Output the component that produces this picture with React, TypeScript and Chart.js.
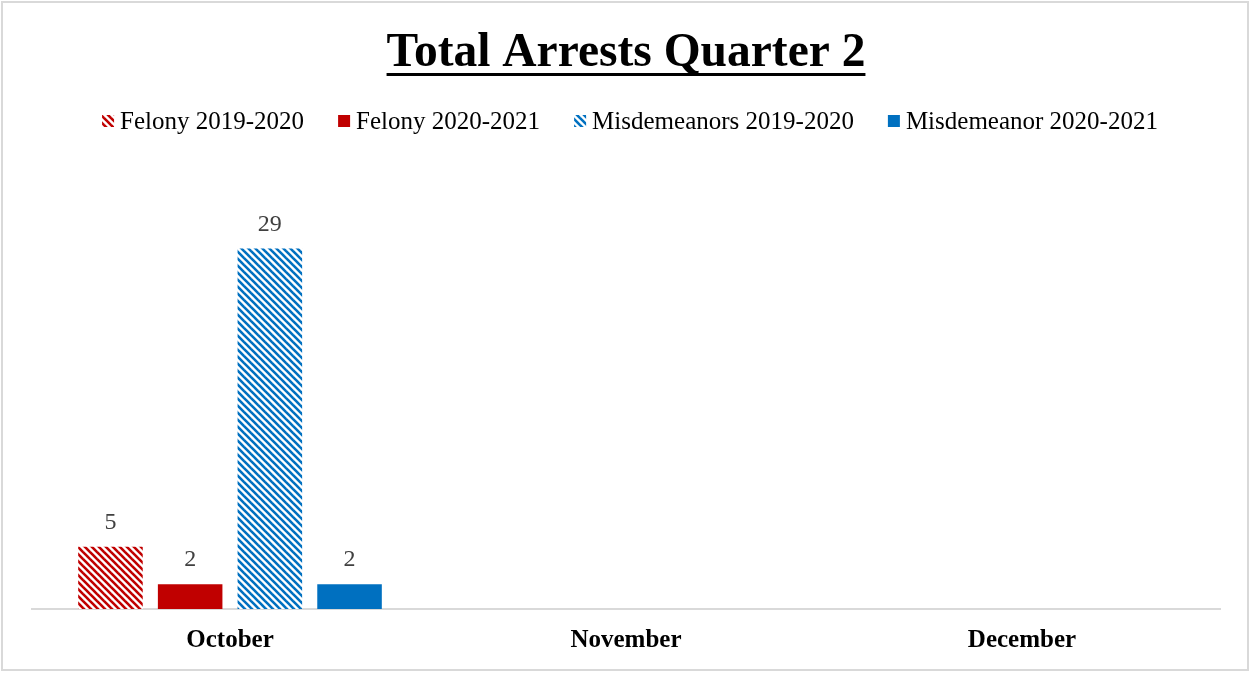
import { useEffect, useRef } from "react";
import { Chart, registerables } from "chart.js";
Chart.register(...registerables);

const categories = ["October", "November", "December"];
const felony2019 = [5, null, null];
const felony2020 = [2, null, null];
const misd2019 = [29, null, null];
const misd2020 = [2, null, null];
const seriesNames = [
  "Felony 2019-2020",
  "Felony 2020-2021",
  "Misdemeanors 2019-2020",
  "Misdemeanor 2020-2021",
];
const titleText = "Total Arrests Quarter 2";
const RED = "#C00000";
const BLUE = "#0070C0";
const FONT = "'Liberation Serif', 'Times New Roman', serif";

function stripes(color: string) {
  const s = 7;
  const c = document.createElement("canvas");
  c.width = s;
  c.height = s;
  const g = c.getContext("2d")!;
  g.fillStyle = "#ffffff";
  g.fillRect(0, 0, s, s);
  g.strokeStyle = color;
  g.lineWidth = 2.6;
  for (let k = -1; k <= 1; k++) {
    g.beginPath();
    g.moveTo(k * s - 1, -1);
    g.lineTo(k * s + s + 1, s + 1);
    g.stroke();
  }
  return g.createPattern(c, "repeat")!;
}

const deco = {
  id: "deco",
  beforeDraw(chart: any) {
    const ctx = chart.ctx;
    ctx.save();
    ctx.fillStyle = "#ffffff";
    ctx.fillRect(0, 0, chart.width, chart.height);
    ctx.strokeStyle = "#D9D9D9";
    ctx.lineWidth = 2;
    ctx.strokeRect(2, 2, chart.width - 4, chart.height - 5);
    ctx.restore();
  },
  afterDatasetsDraw(chart: any) {
    const ctx = chart.ctx;
    ctx.save();
    ctx.font = `24px ${FONT}`;
    ctx.fillStyle = "#404040";
    ctx.textAlign = "center";
    ctx.textBaseline = "alphabetic";
    chart.data.datasets.forEach((ds: any, i: number) => {
      const meta = chart.getDatasetMeta(i);
      meta.data.forEach((bar: any, j: number) => {
        const v = ds.data[j];
        if (v === null || v === undefined) return;
        ctx.fillText(String(v), bar.x, bar.y - 18);
      });
    });
    ctx.restore();
  },
  afterDraw(chart: any) {
    const ctx = chart.ctx;
    const cx = (chart.chartArea.left + chart.chartArea.right) / 2;
    ctx.save();
    // title
    ctx.font = `bold 47.5px ${FONT}`;
    ctx.fillStyle = "#000000";
    ctx.textAlign = "center";
    ctx.textBaseline = "alphabetic";
    ctx.fillText(titleText, cx, 66);
    const tw = ctx.measureText(titleText).width;
    ctx.fillRect(cx - tw / 2, 73, tw, 3);
    // legend
    ctx.font = `25px ${FONT}`;
    ctx.textAlign = "left";
    const box = 12;
    const gapBox = 6;
    const gapItem = 34;
    const widths = seriesNames.map((n) => ctx.measureText(n).width);
    const total =
      widths.reduce((a, b) => a + b + box + gapBox, 0) + gapItem * (seriesNames.length - 1);
    let x = cx + 4 - total / 2;
    const base = 129;
    seriesNames.forEach((n, i) => {
      ctx.fillStyle = chart.data.datasets[i].backgroundColor;
      ctx.fillRect(x, base - 14, box, box);
      ctx.fillStyle = "#000000";
      ctx.fillText(n, x + box + gapBox, base);
      x += box + gapBox + widths[i] + gapItem;
    });
    ctx.restore();
  },
};

export default function App() {
  const ref = useRef<HTMLCanvasElement>(null);
  useEffect(() => {
    document.body.style.margin = "0";
    const redP = stripes(RED);
    const blueP = stripes(BLUE);
    const common = { categoryPercentage: 0.805, barPercentage: 0.81, borderWidth: 0 };
    const chart = new Chart(ref.current!, {
      type: "bar",
      data: {
        labels: categories,
        datasets: [
          { label: seriesNames[0], data: felony2019, backgroundColor: redP, ...common },
          { label: seriesNames[1], data: felony2020, backgroundColor: RED, ...common },
          { label: seriesNames[2], data: misd2019, backgroundColor: blueP, ...common },
          { label: seriesNames[3], data: misd2020, backgroundColor: BLUE, ...common },
        ] as any,
      },
      options: {
        animation: false,
        responsive: true,
        maintainAspectRatio: false,
        layout: { padding: { top: 174, left: 32, right: 30, bottom: 0 } },
        plugins: {
          legend: { display: false },
          title: { display: false },
          tooltip: { enabled: false },
        },
        scales: {
          x: {
            grid: { display: false, drawTicks: false },
            border: { color: "#D9D9D9", width: 2 },
            ticks: {
              font: { family: FONT, size: 25, weight: "bold" },
              color: "#000000",
              padding: 17,
            },
          },
          y: { display: false, min: 0, max: 35 },
        },
      },
      plugins: [deco],
    });
    return () => chart.destroy();
  }, []);
  return (
    <div style={{ position: "fixed", left: 0, top: 0, width: 1250, height: 673 }}>
      <canvas ref={ref} />
    </div>
  );
}
